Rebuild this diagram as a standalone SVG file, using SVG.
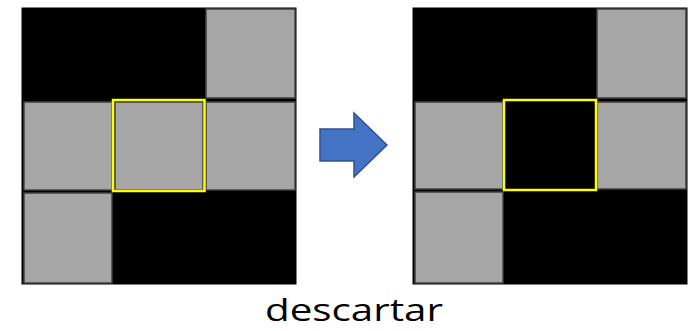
<svg xmlns="http://www.w3.org/2000/svg" width="690" height="331" viewBox="0 0 690 331">
<style>
.bg{fill:#000}
.g{fill:#a6a6a6;stroke:#404040;stroke-width:1.5}
.sel{fill:none;stroke:#ffff00;stroke-width:2.5}
.lbl{font-family:"Open Sans","Liberation Sans",sans-serif;font-size:31px;fill:#000}
</style>
<g id="grid-before">
<rect class="bg" x="21.5" y="7.5" width="275" height="277"/>
<rect class="g" x="206" y="9" width="89" height="89"/>
<rect class="g" x="24" y="102" width="88" height="88"/>
<rect class="g" x="115" y="102" width="88" height="88"/>
<rect class="g" x="206" y="102" width="89" height="88"/>
<rect class="g" x="24" y="193" width="88" height="90"/>
<rect class="sel" x="113" y="100" width="91.5" height="91"/>
</g>
<g id="arrow">
<polygon points="320,129 354,129 354,113 387,145 354,177 354,161 320,161" fill="#4472c4" stroke="#2f528f" stroke-width="1.5"/>
</g>
<g id="grid-after">
<rect class="bg" x="412.5" y="7.5" width="275" height="277"/>
<rect class="g" x="597" y="9" width="89" height="89"/>
<rect class="g" x="415" y="102" width="88" height="87"/>
<rect class="g" x="597" y="102" width="89" height="87"/>
<rect class="g" x="415" y="192" width="88" height="91"/>
<rect class="sel" x="504" y="100" width="92" height="90"/>
</g>
<g id="caption">
<text class="lbl" x="354" y="321" text-anchor="middle" textLength="178" lengthAdjust="spacingAndGlyphs">descartar</text>
</g>
</svg>
